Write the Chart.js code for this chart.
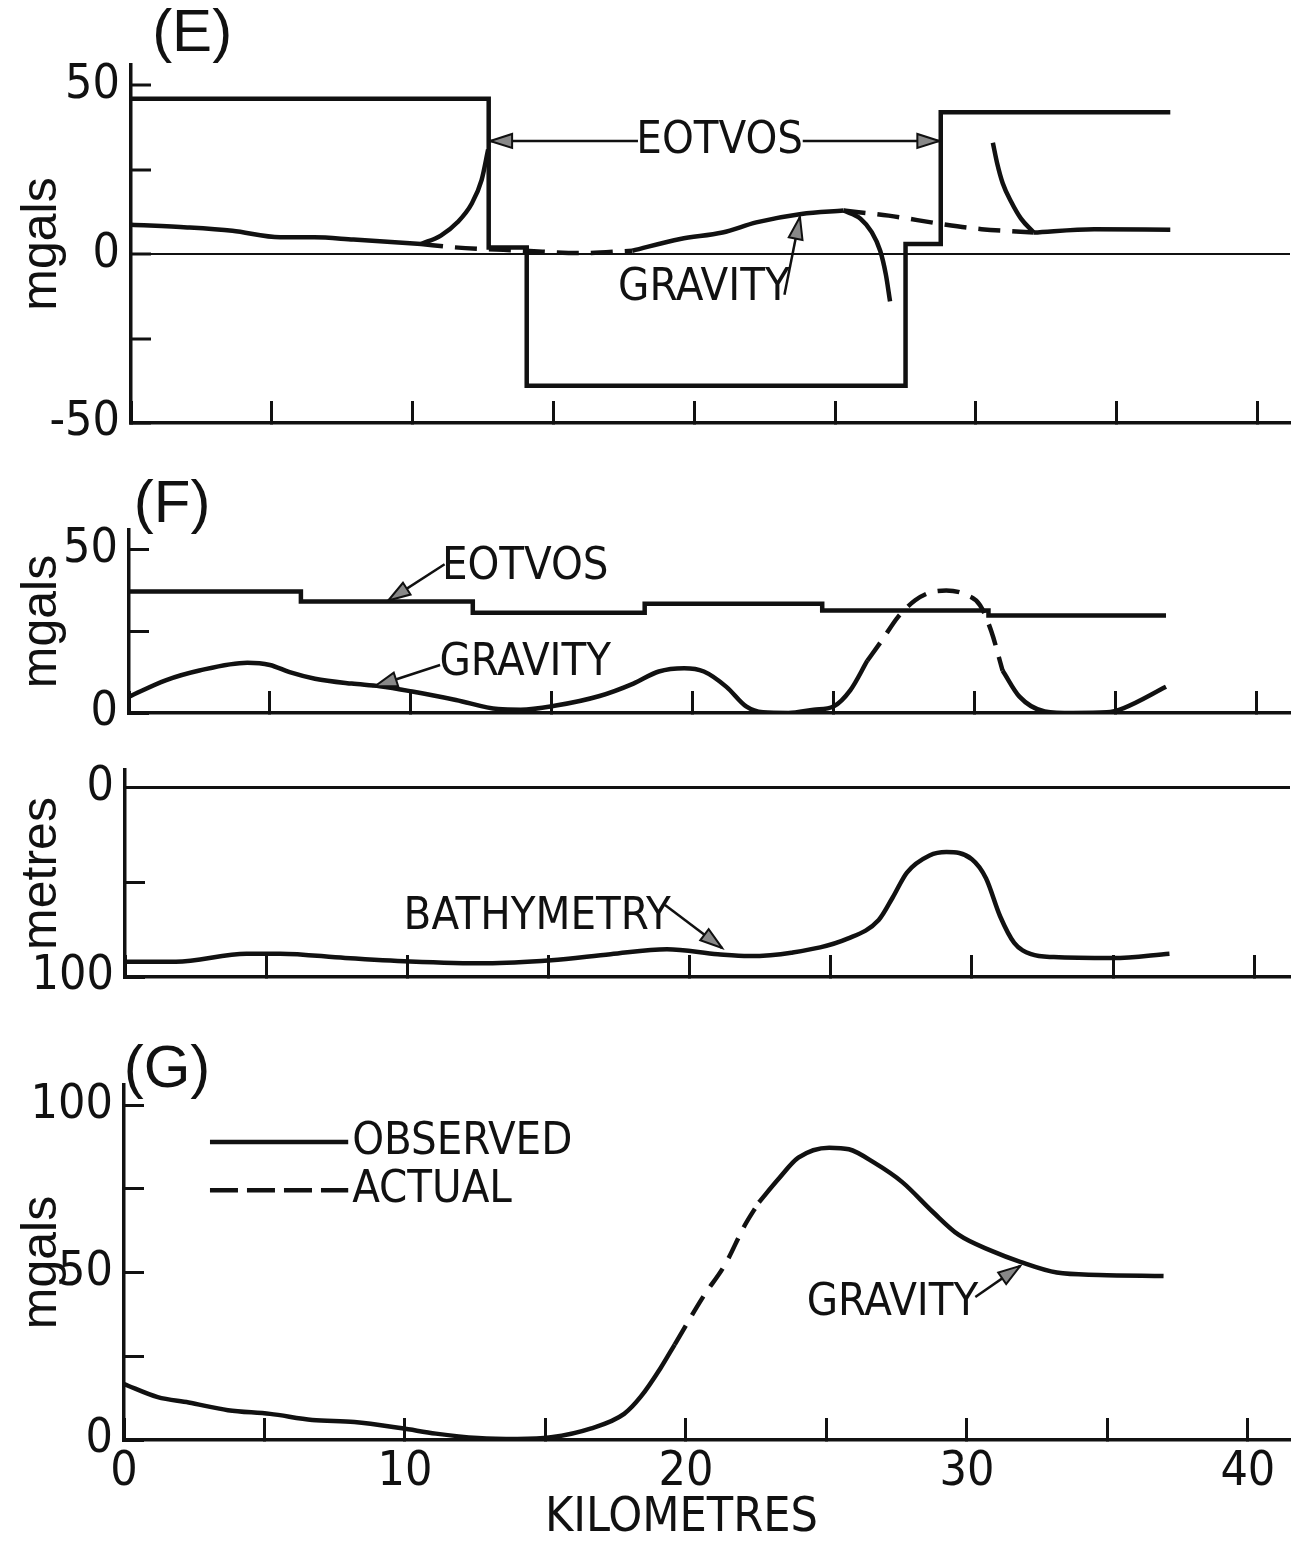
<!DOCTYPE html>
<html>
<head>
<meta charset="utf-8">
<script src="https://cdn.jsdelivr.net/npm/chart.js@4.4.0/dist/chart.umd.min.js"></script>
<style>
  body { margin: 0; background: #fff; }
  #wrap { position: relative; width: 1292px; height: 1541px; background: #fff; }
  canvas { position: absolute; left: 0; }
</style>
</head>
<body>
<div id="wrap">
  <canvas id="chartE" width="1292" height="440" style="top:0px"></canvas>
  <canvas id="chartF" width="1292" height="270" style="top:460px"></canvas>
  <canvas id="chartB" width="1292" height="260" style="top:740px"></canvas>
  <canvas id="chartG" width="1292" height="511" style="top:1030px"></canvas>
</div>
<script>
const FONT_NARROW = '"Liberation Sans Narrow", "DejaVu Sans Condensed", "Liberation Sans", sans-serif';
const FONT_REG = '"Liberation Sans", "DejaVu Sans", sans-serif';
const INK = '#111';

// distance axis (km), shared by every panel
const kmTicks = [0, 5, 10, 15, 20, 25, 30, 35, 40];
const kmLabelled = [0, 10, 20, 30, 40];

// (E) eotvos correction and gravity, mgal
const eTicks = [-50, -25, 0, 25, 50];
const eLabelled = [-50, 0, 50];
const eEotvosKm   = [0, 12.7, 14.05, 27.5, 28.75, 36.9];
const eEotvosMgal = [46, 2, -39, 3, 42, 42];
const eGravKm1 = [0, 2, 3.6, 5.3, 6.5, 7.9, 10.3];
const eGrav1   = [8.7, 7.9, 6.9, 5.0, 5.0, 4.3, 3.0];
const eEdgeKm1 = [10.3, 11.0, 11.6, 12.1, 12.45, 12.68];
const eEdge1   = [3.0, 5.5, 9.5, 15, 22, 31];
const eDashKm1 = [10.3, 11.5, 14, 15.9, 17.8];
const eDash1   = [3.0, 2.0, 1.0, 0.3, 1.0];
const eGravKm2 = [17.8, 19.5, 21, 22.2, 23.8, 25.3];
const eGrav2   = [1.0, 4.5, 6.4, 9.4, 11.9, 12.9];
const eEdgeKm2 = [25.3, 25.9, 26.3, 26.6, 26.8, 26.95];
const eEdge2   = [12.9, 10.5, 6.5, 1, -6, -14];
const eDashKm2 = [25.3, 26.9, 28.8, 30.2, 32.05];
const eDash2   = [12.9, 11.4, 8.9, 7.4, 6.4];
const eEdgeKm3 = [30.6, 30.75, 30.95, 31.25, 31.6, 32.05];
const eEdge3   = [33, 27, 21, 15.5, 10.5, 6.4];
const eGravKm3 = [32.05, 34.2, 36.9];
const eGrav3   = [6.4, 7.4, 7.2];

// (F) eotvos correction and gravity, mgal
const fTicks = [0, 25, 50];
const fLabelled = [0, 50];
const fEotvosKm   = [0, 6.1, 12.2, 18.3, 24.6, 30.5, 36.8];
const fEotvosMgal = [37.2, 34.1, 30.7, 33.4, 31.4, 29.8, 29.8];
const fGravKm1 = [0, 1.3, 2.5, 4.2, 5, 5.7, 6.6, 7.9, 8.9, 10.1, 11.6, 13.1, 13.9, 15.1, 16.7, 17.9, 18.8, 19.7, 20.4, 21.2, 21.9, 22.5, 23.4, 24.3, 25, 25.6, 26.2];
const fGrav1   = [5, 10, 13, 15.4, 14.7, 12.5, 10.5, 9, 8.2, 6.5, 4, 1.2, 1, 2.2, 5.2, 9, 12.7, 13.7, 12.7, 8, 2, 0.2, 0, 1, 2, 7, 16];
const fDashKm  = [26.2, 26.7, 27.3, 27.9, 28.4, 29.0, 29.7, 30.2, 30.6, 31.0];
const fDash    = [16, 22, 29.5, 34.5, 36.8, 37.5, 36.2, 33, 25, 13];
const fGravKm2 = [31.0, 31.6, 32.5, 33.5, 34.7, 35.3, 36.8];
const fGrav2   = [13, 5, 0.5, 0, 0.2, 1.5, 8];

// (F) bathymetry, metres
const bTicks = [0, 50, 100];
const bLabelled = [0, 100];
const bathKm    = [0, 1.8, 4.3, 5.5, 7.8, 10.1, 12.8, 15.1, 17.2, 19.2, 21, 22.1, 23.6, 25.6, 26.7, 27.2, 27.7, 28.5, 29.1, 30.0, 30.5, 31.0, 31.5, 32.1, 32.9, 35, 37];
const bathDepth = [92, 92, 87.7, 87.7, 90, 91.8, 92.8, 91.2, 88, 85.4, 88, 89, 87.2, 79.8, 70, 58, 45, 36, 34.2, 38, 48, 68, 82, 88, 89.5, 90, 87.7];

// (G) observed and actual gravity, mgal
const gTicks = [0, 25, 50, 75, 100];
const gLabelled = [0, 50, 100];
const gObsKm1 = [0, 1.2, 2.3, 3.7, 5.2, 6.7, 8.2, 9.9, 11.1, 12.6, 14, 15.2, 16.6, 17.8, 18.4, 19.1, 19.6];
const gObs1   = [16.7, 12.8, 11.2, 8.9, 7.8, 6.0, 5.4, 3.5, 1.9, 0.6, 0.3, 0.8, 3.4, 7.8, 13.0, 21.5, 28.5];
const gActKm  = [19.6, 20.6, 21.4, 22.1, 22.6];
const gAct    = [28.5, 42.6, 52.5, 64.2, 71];
const gObsKm2 = [22.6, 23.3, 24, 25.1, 25.8, 26.7, 27.7, 28.8, 29.7, 30.9, 31.9, 33.2, 34.7, 37];
const gObs2   = [71, 78, 84.3, 87.3, 86.8, 82.8, 77, 68, 61.3, 56.4, 53.2, 50, 49.3, 49];

function pts(xs, ys) {
    return xs.map((x, i) => ({ x: x, y: ys[i] }));
}

function curve(xs, ys, dashed) {
    return {
        data: pts(xs, ys),
        borderColor: INK,
        borderWidth: 4.5,
        borderDash: dashed ? [22, 12] : [],
        pointRadius: 0,
        cubicInterpolationMode: 'monotone',
        fill: false
    };
}

function steps(xs, ys) {
    return { data: pts(xs, ys), borderColor: INK, borderWidth: 4.5, pointRadius: 0, stepped: true, fill: false };
}

// labels, pointer arrows and legend samples, placed in data units
function notes(items) {
    return {
        id: 'notes',
        afterDatasetsDraw(chart) {
            const ctx = chart.ctx;
            const px = v => chart.scales.x.getPixelForValue(v);
            const py = v => chart.scales.y.getPixelForValue(v);
            ctx.save();
            ctx.fillStyle = INK;
            ctx.strokeStyle = INK;
            items.forEach(it => {
                if (it.text !== undefined) {
                    ctx.font = it.font;
                    ctx.textAlign = it.align || 'center';
                    ctx.textBaseline = 'middle';
                    ctx.fillText(it.text, px(it.x), py(it.y));
                } else if (it.arrow) {
                    const x1 = px(it.arrow[0]), y1 = py(it.arrow[1]);
                    const x2 = px(it.arrow[2]), y2 = py(it.arrow[3]);
                    ctx.setLineDash([]);
                    ctx.lineWidth = 2.5;
                    ctx.beginPath();
                    ctx.moveTo(x1, y1);
                    ctx.lineTo(x2, y2);
                    ctx.stroke();
                    const a = Math.atan2(y2 - y1, x2 - x1), L = 22, W = 7;
                    ctx.beginPath();
                    ctx.moveTo(x2, y2);
                    ctx.lineTo(x2 - L * Math.cos(a) + W * Math.sin(a), y2 - L * Math.sin(a) - W * Math.cos(a));
                    ctx.lineTo(x2 - L * Math.cos(a) - W * Math.sin(a), y2 - L * Math.sin(a) + W * Math.cos(a));
                    ctx.closePath();
                    ctx.fillStyle = '#888';
                    ctx.fill();
                    ctx.lineWidth = 2;
                    ctx.stroke();
                    ctx.fillStyle = INK;
                } else if (it.sample) {
                    ctx.lineWidth = 4.5;
                    ctx.setLineDash(it.dash || []);
                    ctx.beginPath();
                    ctx.moveTo(px(it.sample[0]), py(it.sample[2]));
                    ctx.lineTo(px(it.sample[1]), py(it.sample[2]));
                    ctx.stroke();
                    ctx.setLineDash([]);
                }
            });
            ctx.restore();
        }
    };
}

function panel(id, cfg) {
    return new Chart(document.getElementById(id), {
        type: 'line',
        data: { datasets: cfg.datasets },
        options: {
            responsive: false,
            animation: false,
            devicePixelRatio: 1,
            layout: { autoPadding: false, padding: { top: cfg.padTop, right: 2, bottom: 0, left: 0 } },
            plugins: { legend: { display: false }, tooltip: { enabled: false } },
            scales: {
                x: {
                    type: 'linear', min: 0, max: cfg.xMax,
                    afterFit: s => {
                        s.height = cfg.xHeight;
                        s.paddingLeft = 0; s.paddingRight = 0;
                    },
                    afterBuildTicks: s => { s.ticks = kmTicks.map(v => ({ value: v })); },
                    grid: { drawOnChartArea: false, tickLength: -22, tickWidth: 3, tickColor: INK },
                    border: { display: true, width: 3.5, color: INK },
                    ticks: {
                        display: !!cfg.xLabels, autoSkip: false, maxRotation: 0, padding: 26,
                        color: INK, font: { family: FONT_NARROW, size: 48 },
                        callback: v => kmLabelled.includes(v) ? String(v) : ''
                    }
                },
                y: {
                    type: 'linear', min: cfg.yMin, max: cfg.yMax, reverse: !!cfg.reverse,
                    afterFit: s => {
                        s.width = cfg.x0;
                        s.paddingTop = 0; s.paddingBottom = 0;
                    },
                    afterBuildTicks: s => { s.ticks = cfg.yTicks.map(v => ({ value: v })); },
                    grid: {
                        drawOnChartArea: true,
                        color: c => (c.tick && c.tick.value === cfg.refLine) ? INK : 'rgba(0,0,0,0)',
                        lineWidth: cfg.refWidth || 1,
                        tickLength: -20, tickWidth: 3, tickColor: INK
                    },
                    border: { display: true, width: 3.5, color: INK },
                    ticks: {
                        autoSkip: false, padding: 31, color: INK,
                        font: { family: FONT_NARROW, size: 48 },
                        callback: v => cfg.yLabelled.includes(v) ? String(v) : ''
                    },
                    title: {
                        display: true, text: cfg.yTitle, color: INK,
                        font: { family: FONT_REG, size: 50, lineHeight: 1 },
                        padding: { top: 17, bottom: 0 }
                    }
                }
            }
        },
        plugins: [notes(cfg.notes)]
    });
}

const LABEL = '45px ' + FONT_NARROW;
const TITLE = '60px ' + FONT_REG;

panel('chartE', {
    x0: 131, xMax: 41.15, padTop: 65, xHeight: 17,
    yMin: -50, yMax: 56, yTicks: eTicks, yLabelled: eLabelled, yTitle: 'mgals',
    refLine: 0, refWidth: 2,
    datasets: [
        steps(eEotvosKm, eEotvosMgal),
        curve(eGravKm1, eGrav1), curve(eEdgeKm1, eEdge1), curve(eDashKm1, eDash1, true),
        curve(eGravKm2, eGrav2), curve(eEdgeKm2, eEdge2), curve(eDashKm2, eDash2, true),
        curve(eEdgeKm3, eEdge3), curve(eGravKm3, eGrav3)
    ],
    notes: [
        { text: '(E)', x: 2.17, y: 64.9, font: TITLE },
        { text: 'EOTVOS', x: 20.9, y: 33.5, font: LABEL },
        { arrow: [18.0, 33.5, 12.75, 33.5] },
        { arrow: [23.85, 33.5, 28.7, 33.5] },
        { text: 'GRAVITY', x: 20.34, y: -10.1, font: LABEL },
        { arrow: [23.2, -12, 23.75, 11] }
    ]
});

panel('chartF', {
    x0: 129, xMax: 41.2, padTop: 70, xHeight: 17,
    yMin: 0, yMax: 56, yTicks: fTicks, yLabelled: fLabelled, yTitle: 'mgals',
    datasets: [
        steps(fEotvosKm, fEotvosMgal),
        curve(fGravKm1, fGrav1), curve(fDashKm, fDash, true), curve(fGravKm2, fGrav2)
    ],
    notes: [
        { text: '(F)', x: 1.53, y: 63.6, font: TITLE },
        { text: 'EOTVOS', x: 14.06, y: 44.6, font: LABEL },
        { arrow: [11.2, 45.5, 9.2, 34.4] },
        { text: 'GRAVITY', x: 14.06, y: 15.3, font: LABEL },
        { arrow: [11.04, 14.7, 8.73, 8.2] }
    ]
});

panel('chartB', {
    x0: 125, xMax: 41.27, padTop: 30, xHeight: 23,
    yMin: -9, yMax: 100, reverse: true, yTicks: bTicks, yLabelled: bLabelled, yTitle: 'metres',
    refLine: 0, refWidth: 3,
    datasets: [curve(bathKm, bathDepth)],
    notes: [
        { text: 'BATHYMETRY', x: 14.6, y: 68.4, font: LABEL },
        { arrow: [19.13, 62.1, 21.15, 84.7] }
    ]
});

panel('chartG', {
    x0: 124, xMax: 41.5, padTop: 55, xHeight: 101, xLabels: true,
    yMin: 0, yMax: 106, yTicks: gTicks, yLabelled: gLabelled, yTitle: 'mgals',
    datasets: [curve(gObsKm1, gObs1), curve(gActKm, gAct, true), curve(gObsKm2, gObs2)],
    notes: [
        { text: '(G)', x: 1.53, y: 110.4, font: TITLE },
        { sample: [3.06, 7.98, 89] },
        { text: 'OBSERVED', x: 8.12, y: 89, font: LABEL, align: 'left' },
        { sample: [3.06, 7.98, 74.6], dash: [28, 9] },
        { text: 'ACTUAL', x: 8.12, y: 74.6, font: LABEL, align: 'left' },
        { text: 'GRAVITY', x: 27.35, y: 40.9, font: LABEL },
        { arrow: [30.3, 42.7, 31.9, 52] },
        { text: 'KILOMETRES', x: 19.84, y: -23.3, font: '48px ' + FONT_NARROW }
    ]
});
</script>
</body>
</html>
